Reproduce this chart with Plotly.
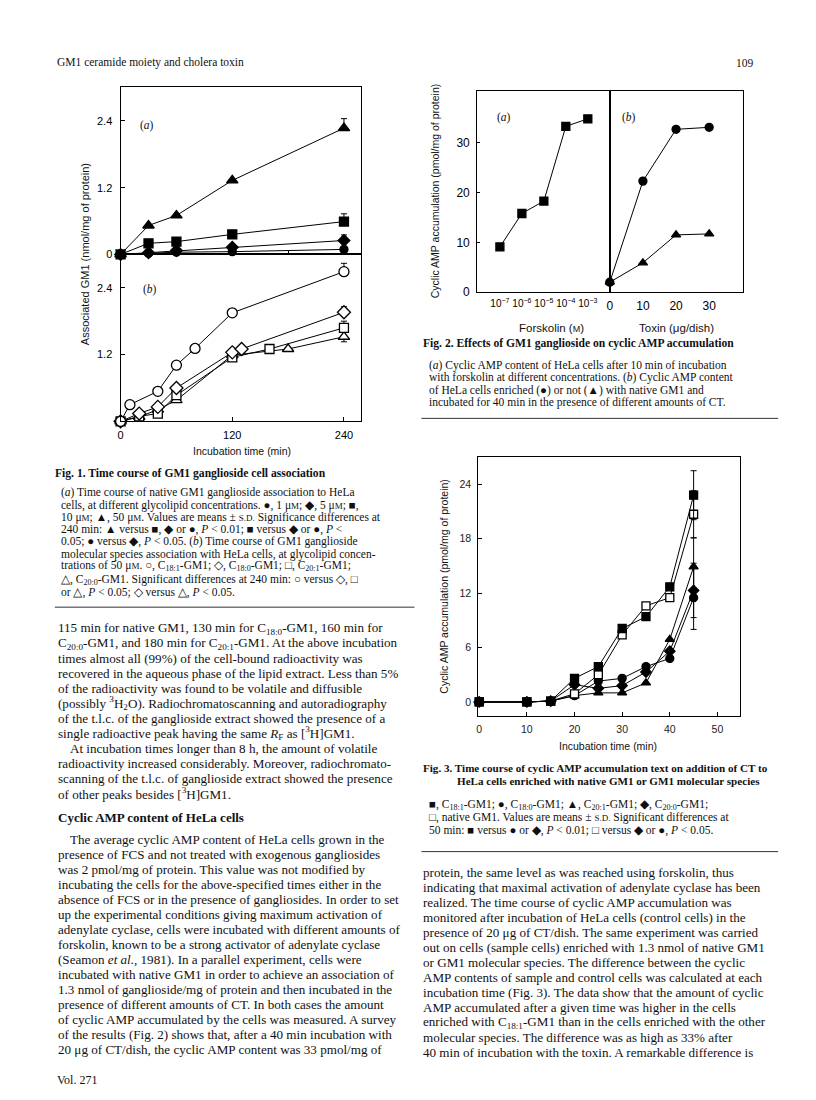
import plotly.graph_objects as go

W, H = 816, 1100

# ---------------- Fig. 1 data ----------------
f1a_time = [0, 30, 60, 120, 240]
f1a_tri = [0, 0.52, 0.70, 1.33, 2.27]
f1a_sq = [0, 0.20, 0.23, 0.36, 0.59]
f1a_dia = [0, 0.03, 0.07, 0.13, 0.25]
f1a_cir = [0, 0.02, 0.04, 0.05, 0.09]
f1a_tri_sd = [0, 0, 0, 0, 0.17]
f1a_sq_sd = [0, 0, 0, 0, 0.14]
f1a_dia_sd = [0, 0, 0, 0, 0.10]

f1b_cir_t = [0, 10, 40, 60, 80, 120, 240]
f1b_cir = [0, 0.30, 0.54, 1.01, 1.31, 1.95, 2.69]
f1b_dia_t = [0, 20, 40, 60, 120, 130, 240]
f1b_dia = [0, 0.14, 0.26, 0.60, 1.24, 1.30, 1.96]
f1b_sq_t = [0, 20, 40, 60, 120, 160, 240]
f1b_sq = [0, 0.09, 0.14, 0.47, 1.15, 1.30, 1.68]
f1b_tri_t = [0, 20, 40, 60, 120, 180, 240]
f1b_tri = [0, 0.08, 0.21, 0.38, 1.19, 1.30, 1.52]
f1b_cir_sd = [0, 0, 0, 0, 0, 0, 0.15]
f1b_dia_sd = [0, 0, 0, 0, 0, 0, 0.10]
f1b_sq_sd = [0, 0, 0, 0, 0, 0, 0.12]
f1b_tri_sd = [0, 0, 0, 0, 0, 0, 0.09]

f1_xticks = [0, 120, 240]
f1_yticks = [0, 1.2, 2.4]

# ---------------- Fig. 2 data ----------------
forsk_exp = [-7, -6, -5, -4, -3]
forsk_labels = ["10<sup>−7</sup>", "10<sup>−6</sup>", "10<sup>−5</sup>", "10<sup>−4</sup>", "10<sup>−3</sup>"]
forsk_camp = [9.1, 15.8, 18.3, 33.3, 34.8]
toxin_dose = [0, 10, 20, 30]
camp_enriched = [2.0, 22.3, 32.7, 33.1]
camp_not_enriched = [2.0, 5.9, 11.5, 11.7]

# ---------------- Fig. 3 data ----------------
f3_time = [0, 10, 15, 20, 25, 30, 35, 40, 45]
f3_c181 = [0, 0, 0.1, 2.6, 3.9, 8.1, 9.4, 12.7, 22.8]
f3_native = [0, 0, 0.1, 0.9, 3.0, 7.4, 10.6, 11.5, 20.7]
f3_c180 = [0, 0, 0.1, 0.7, 2.3, 2.6, 3.9, 4.8, 11.5]
f3_c201 = [0, 0, 0.1, 0.7, 1.0, 1.0, 2.1, 6.9, 14.9]
f3_c200 = [0, 0, 0.1, 1.9, 1.5, 1.8, 3.3, 5.6, 12.3]
f3_sd_c181 = [0, 0, 0, 0, 0, 0, 0, 0, 2.7]
f3_sd_native = [0, 0, 0, 0, 0, 0, 0, 0, 2.6]
f3_sd_c180 = [0, 0, 0, 0, 0, 0, 0, 0, 3.5]
f3_sd_c201 = [0, 0, 0, 0, 0, 0, 0, 0, 3.2]
f3_sd_c200 = [0, 0, 0, 0, 0, 0, 0, 0, 3.0]

# ---------------- page text ----------------
SD = "<span style='font-size:9px'>S.D.</span>"
uM = "μ<span style='font-size:9px'>M</span>"

fig1_caption = [
    "(<i>a</i>) Time course of native GM1 ganglioside association to HeLa",
    "cells, at different glycolipid concentrations. ●, 1 " + uM + "; ◆, 5 " + uM + "; ■,",
    "10 " + uM + "; ▲, 50 " + uM + ". Values are means ± " + SD + " Significance differences at",
    "240 min: ▲ versus ■, ◆ or ●, <i>P</i> &lt; 0.01; ■ versus ◆ or ●, <i>P</i> &lt;",
    "0.05; ● versus ◆, <i>P</i> &lt; 0.05. (<i>b</i>) Time course of GM1 ganglioside",
    "molecular species association with HeLa cells, at glycolipid concen-",
    "trations of 50 " + uM + ". ○, C<sub>18:1</sub>-GM1; ◇, C<sub>18:0</sub>-GM1; □, C<sub>20:1</sub>-GM1;",
    "△, C<sub>20:0</sub>-GM1. Significant differences at 240 min: ○ versus ◇, □",
    "or △, <i>P</i> &lt; 0.05; ◇ versus △, <i>P</i> &lt; 0.05.",
]
fig2_caption = [
    "(<i>a</i>) Cyclic AMP content of HeLa cells after 10 min of incubation",
    "with forskolin at different concentrations. (<i>b</i>) Cyclic AMP content",
    "of HeLa cells enriched (●) or not (▲) with native GM1 and",
    "incubated for 40 min in the presence of different amounts of CT.",
]
fig3_caption = [
    "■, C<sub>18:1</sub>-GM1; ●, C<sub>18:0</sub>-GM1; ▲, C<sub>20:1</sub>-GM1; ◆, C<sub>20:0</sub>-GM1;",
    "□, native GM1. Values are means ± " + SD + " Significant differences at",
    "50 min: ■ versus ● or ◆, <i>P</i> &lt; 0.01; □ versus ◆ or ●, <i>P</i> &lt; 0.05.",
]
left_para1 = [
    "115 min for native GM1, 130 min for C<sub>18:0</sub>-GM1, 160 min for",
    "C<sub>20:0</sub>-GM1, and 180 min for C<sub>20:1</sub>-GM1. At the above incubation",
    "times almost all (99%) of the cell-bound radioactivity was",
    "recovered in the aqueous phase of the lipid extract. Less than 5%",
    "of the radioactivity was found to be volatile and diffusible",
    "(possibly <sup>3</sup>H<sub>2</sub>O). Radiochromatoscanning and autoradiography",
    "of the t.l.c. of the ganglioside extract showed the presence of a",
    "single radioactive peak having the same <i>R</i><sub>F</sub> as [<sup>3</sup>H]GM1.",
]
left_para2 = [
    "At incubation times longer than 8 h, the amount of volatile",
    "radioactivity increased considerably. Moreover, radiochromato-",
    "scanning of the t.l.c. of ganglioside extract showed the presence",
    "of other peaks besides [<sup>3</sup>H]GM1.",
]
left_heading = "<b>Cyclic AMP content of HeLa cells</b>"
left_para3 = [
    "The average cyclic AMP content of HeLa cells grown in the",
    "presence of FCS and not treated with exogenous gangliosides",
    "was 2 pmol/mg of protein. This value was not modified by",
    "incubating the cells for the above-specified times either in the",
    "absence of FCS or in the presence of gangliosides. In order to set",
    "up the experimental conditions giving maximum activation of",
    "adenylate cyclase, cells were incubated with different amounts of",
    "forskolin, known to be a strong activator of adenylate cyclase",
    "(Seamon <i>et al.</i>, 1981). In a parallel experiment, cells were",
    "incubated with native GM1 in order to achieve an association of",
    "1.3 nmol of ganglioside/mg of protein and then incubated in the",
    "presence of different amounts of CT. In both cases the amount",
    "of cyclic AMP accumulated by the cells was measured. A survey",
    "of the results (Fig. 2) shows that, after a 40 min incubation with",
    "20 μg of CT/dish, the cyclic AMP content was 33 pmol/mg of",
]
right_para = [
    "protein, the same level as was reached using forskolin, thus",
    "indicating that maximal activation of adenylate cyclase has been",
    "realized. The time course of cyclic AMP accumulation was",
    "monitored after incubation of HeLa cells (control cells) in the",
    "presence of 20 μg of CT/dish. The same experiment was carried",
    "out on cells (sample cells) enriched with 1.3 nmol of native GM1",
    "or GM1 molecular species. The difference between the cyclic",
    "AMP contents of sample and control cells was calculated at each",
    "incubation time (Fig. 3). The data show that the amount of cyclic",
    "AMP accumulated after a given time was higher in the cells",
    "enriched with C<sub>18:1</sub>-GM1 than in the cells enriched with the other",
    "molecular species. The difference was as high as 33% after",
    "40 min of incubation with the toxin. A remarkable difference is",
]


def dx(a, b):
    return [a / W, b / W]


def dy(bottom, top):
    return [1 - bottom / H, 1 - top / H]


SANS = "Liberation Sans"
SERIF = "Liberation Serif"

fig = go.Figure()


def add(x, y, xa, ya, symbol, filled=True, size=9, err=None, errminus=None):
    e = None
    if err is not None:
        e = dict(type="data", array=err, arrayminus=errminus if errminus is not None else [0] * len(err),
                 symmetric=False, color="black", thickness=1, width=3)
    fig.add_trace(go.Scatter(
        x=x, y=y, xaxis=xa, yaxis=ya, mode="lines+markers",
        line=dict(color="black", width=1),
        marker=dict(symbol=symbol, size=size, color="black" if filled else "white",
                    line=dict(color="black", width=1.3)),
        error_y=e, showlegend=False, cliponaxis=False))


# Fig 1 (a)
add(f1a_time, f1a_cir, "x2", "y", "circle", size=8)
add(f1a_time, f1a_dia, "x2", "y", "diamond", size=9, err=f1a_dia_sd)
add(f1a_time, f1a_sq, "x2", "y", "square", size=9, err=f1a_sq_sd)
add(f1a_time, f1a_tri, "x2", "y", "triangle-up", size=10, err=f1a_tri_sd)
# Fig 1 (b)
add(f1b_tri_t, f1b_tri, "x", "y2", "triangle-up", filled=False, size=10, err=[0] * 7, errminus=f1b_tri_sd)
add(f1b_sq_t, f1b_sq, "x", "y2", "square", filled=False, size=9, err=f1b_sq_sd)
add(f1b_dia_t, f1b_dia, "x", "y2", "diamond", filled=False, size=10, err=f1b_dia_sd)
add(f1b_cir_t, f1b_cir, "x", "y2", "circle", filled=False, size=10, err=f1b_cir_sd)
# Fig 2
add(forsk_exp, forsk_camp, "x3", "y3", "square", size=8)
add(toxin_dose, camp_enriched, "x4", "y4", "circle", size=8)
add(toxin_dose, camp_not_enriched, "x4", "y4", "triangle-up", size=8)
# Fig 3
add(f3_time, f3_c180, "x5", "y5", "circle", size=8, err=f3_sd_c180, errminus=f3_sd_c180)
add(f3_time, f3_c200, "x5", "y5", "diamond", size=8, err=f3_sd_c200, errminus=f3_sd_c200)
add(f3_time, f3_c201, "x5", "y5", "triangle-up", size=8, err=f3_sd_c201, errminus=f3_sd_c201)
add(f3_time, f3_native, "x5", "y5", "square", filled=False, size=8, err=f3_sd_native, errminus=f3_sd_native)
add(f3_time, f3_c181, "x5", "y5", "square", size=8, err=f3_sd_c181, errminus=f3_sd_c181)

base = dict(showgrid=False, zeroline=False, showline=True, linecolor="black", linewidth=1.2,
            mirror=True, ticks="inside", ticklen=4, tickcolor="black", tickwidth=1,
            tickfont=dict(family=SANS, size=11, color="black"))

fig.update_layout(
    width=W, height=H, margin=dict(l=0, r=0, t=0, b=0),
    paper_bgcolor="white", plot_bgcolor="rgba(0,0,0,0)", showlegend=False,
    xaxis=dict(base, domain=dx(110, 351), range=[0, 258], anchor="y2", tickvals=f1_xticks,
               ticklabelstandoff=3),
    xaxis2=dict(base, domain=dx(110, 351), range=[0, 258], anchor="y", tickvals=[60, 120, 180],
                showticklabels=False),
    yaxis=dict(base, domain=dy(248, 80), range=[0, 3.0], anchor="x2", tickvals=f1_yticks,
               ticklabelstandoff=5),
    yaxis2=dict(base, domain=dy(416, 248), range=[0, 3.0], anchor="x", tickvals=f1_yticks,
                ticktext=["", "1.2", "2.4"], ticklabelstandoff=5),
    xaxis3=dict(base, domain=dx(468, 601), range=[-8.03, -2.0], anchor="y3", tickvals=forsk_exp,
                ticktext=forsk_labels, ticks="", tickangle=0, ticklabelstandoff=2,
                tickfont=dict(family=SANS, size=10, color="black")),
    yaxis3=dict(base, domain=dy(286, 84), range=[0, 40.3], anchor="x3", tickvals=[0, 10, 20, 30],
                ticklen=3, ticklabelstandoff=4, tickfont=dict(family=SANS, size=12, color="black")),
    xaxis4=dict(base, domain=dx(601, 735), range=[0, 40.3], anchor="y4", tickvals=toxin_dose,
                ticks="", tickangle=0, ticklabelstandoff=2,
                tickfont=dict(family=SANS, size=12, color="black")),
    yaxis4=dict(base, domain=dy(286, 84), range=[0, 40.3], anchor="x4", showticklabels=False, ticks=""),
    xaxis5=dict(base, domain=dx(469, 732), range=[-0.2, 54.8], anchor="y5",
                tickvals=[0, 10, 20, 30, 40, 50], ticklabelstandoff=3,
                tickfont=dict(family=SANS, size=10.5, color="#222")),
    yaxis5=dict(base, domain=dy(713, 452), range=[-1.6, 27], anchor="x5",
                tickvals=[0, 6, 12, 18, 24], ticklabelstandoff=4,
                tickfont=dict(family=SANS, size=10.5, color="#222")),
)

ann = []


def txt(x, y, s, size=13.1, family=SERIF, anchor="left", angle=0, color="#111"):
    ann.append(dict(x=x / W, y=1 - y / H, xref="paper", yref="paper", text=s, showarrow=False,
                    xanchor=anchor, yanchor="middle", textangle=angle,
                    font=dict(family=family, size=size, color=color)))


CAP = 11.5
CAPL = 12.3

# header / footer
txt(44, 55, "GM1 ceramide moiety and cholera toxin", size=11.5)
txt(748, 55, "109", size=11.5, anchor="right")
txt(44, 1079, "Vol. 271", size=12)

# Fig 1 labels
txt(127, 118, "(<i>a</i>)", size=11.5)
txt(130, 283, "(<i>b</i>)", size=11.5)
txt(75, 248, "Associated GM1 (nmol/mg of protein)", size=11, family=SANS, anchor="center", angle=-90)
txt(232, 446, "Incubation time (min)", size=10.5, family=SANS, anchor="center")

# Fig 2 labels
txt(486, 110, "(<i>a</i>)", size=11.5)
txt(611, 110, "(<i>b</i>)", size=11.5)
txt(425, 184, "Cyclic AMP accumulation (pmol/mg of protein)", size=10.5, family=SANS, anchor="center", angle=-90)
txt(542, 322, "Forskolin (<span style='font-size:9px'>M</span>)", size=11.5, family=SANS, anchor="center")
txt(668, 322, "Toxin (μg/dish)", size=11.5, family=SANS, anchor="center")

# Fig 3 labels
txt(435, 582, "Cyclic AMP accumulation (pmol/mg of protein)", size=10.5, family=SANS, anchor="center", angle=-90)
txt(599, 743, "Incubation time (min)", size=10.5, family=SANS, anchor="center")

# Fig 1 caption (a little extra room below the line with subscripts)
txt(42, 468, "<b>Fig. 1. Time course of GM1 ganglioside cell association</b>", size=11.6)
for i, s in enumerate(fig1_caption):
    txt(48, 488 + i * CAPL + (1.8 if i >= 7 else 0), s, size=CAP)

# Fig 2 caption
txt(412, 338, "<b>Fig. 2. Effects of GM1 ganglioside on cyclic AMP accumulation</b>", size=11.6)
for i, s in enumerate(fig2_caption):
    txt(418, 360 + i * CAPL, s, size=CAP)

# Fig 3 caption
txt(412, 765, "<b>Fig. 3. Time course of cyclic AMP accumulation text on addition of CT to</b>", size=11.1)
txt(446, 778, "<b>HeLa cells enriched with native GM1 or GM1 molecular species</b>", size=11.1)
for i, s in enumerate(fig3_caption):
    txt(418, 802 + i * CAPL + (0.8 if i >= 1 else 0), s, size=CAP)

# body text
L = 15.1
LX = 45
y0 = 624
for i, s in enumerate(left_para1):
    txt(LX, y0 + i * L, s)
y1 = y0 + len(left_para1) * L
for i, s in enumerate(left_para2):
    txt(LX + (12 if i == 0 else 0), y1 + i * L, s)
yh = 815
txt(LX, yh, left_heading, size=13)
y3 = 837
for i, s in enumerate(left_para3):
    txt(LX + (12 if i == 0 else 0), y3 + i * L, s)
for i, s in enumerate(right_para):
    txt(412, 870 + i * L, s)

fig.update_layout(annotations=ann)

# horizontal rules under captions
rules = [(44, 405, 603), (412, 770, 413), (412, 770, 849)]
fig.update_layout(shapes=[dict(type="line", xref="paper", yref="paper", x0=a / W, x1=b / W,
                               y0=1 - y / H, y1=1 - y / H, line=dict(color="#333", width=1))
                          for a, b, y in rules])

fig.write_html("out.html")
